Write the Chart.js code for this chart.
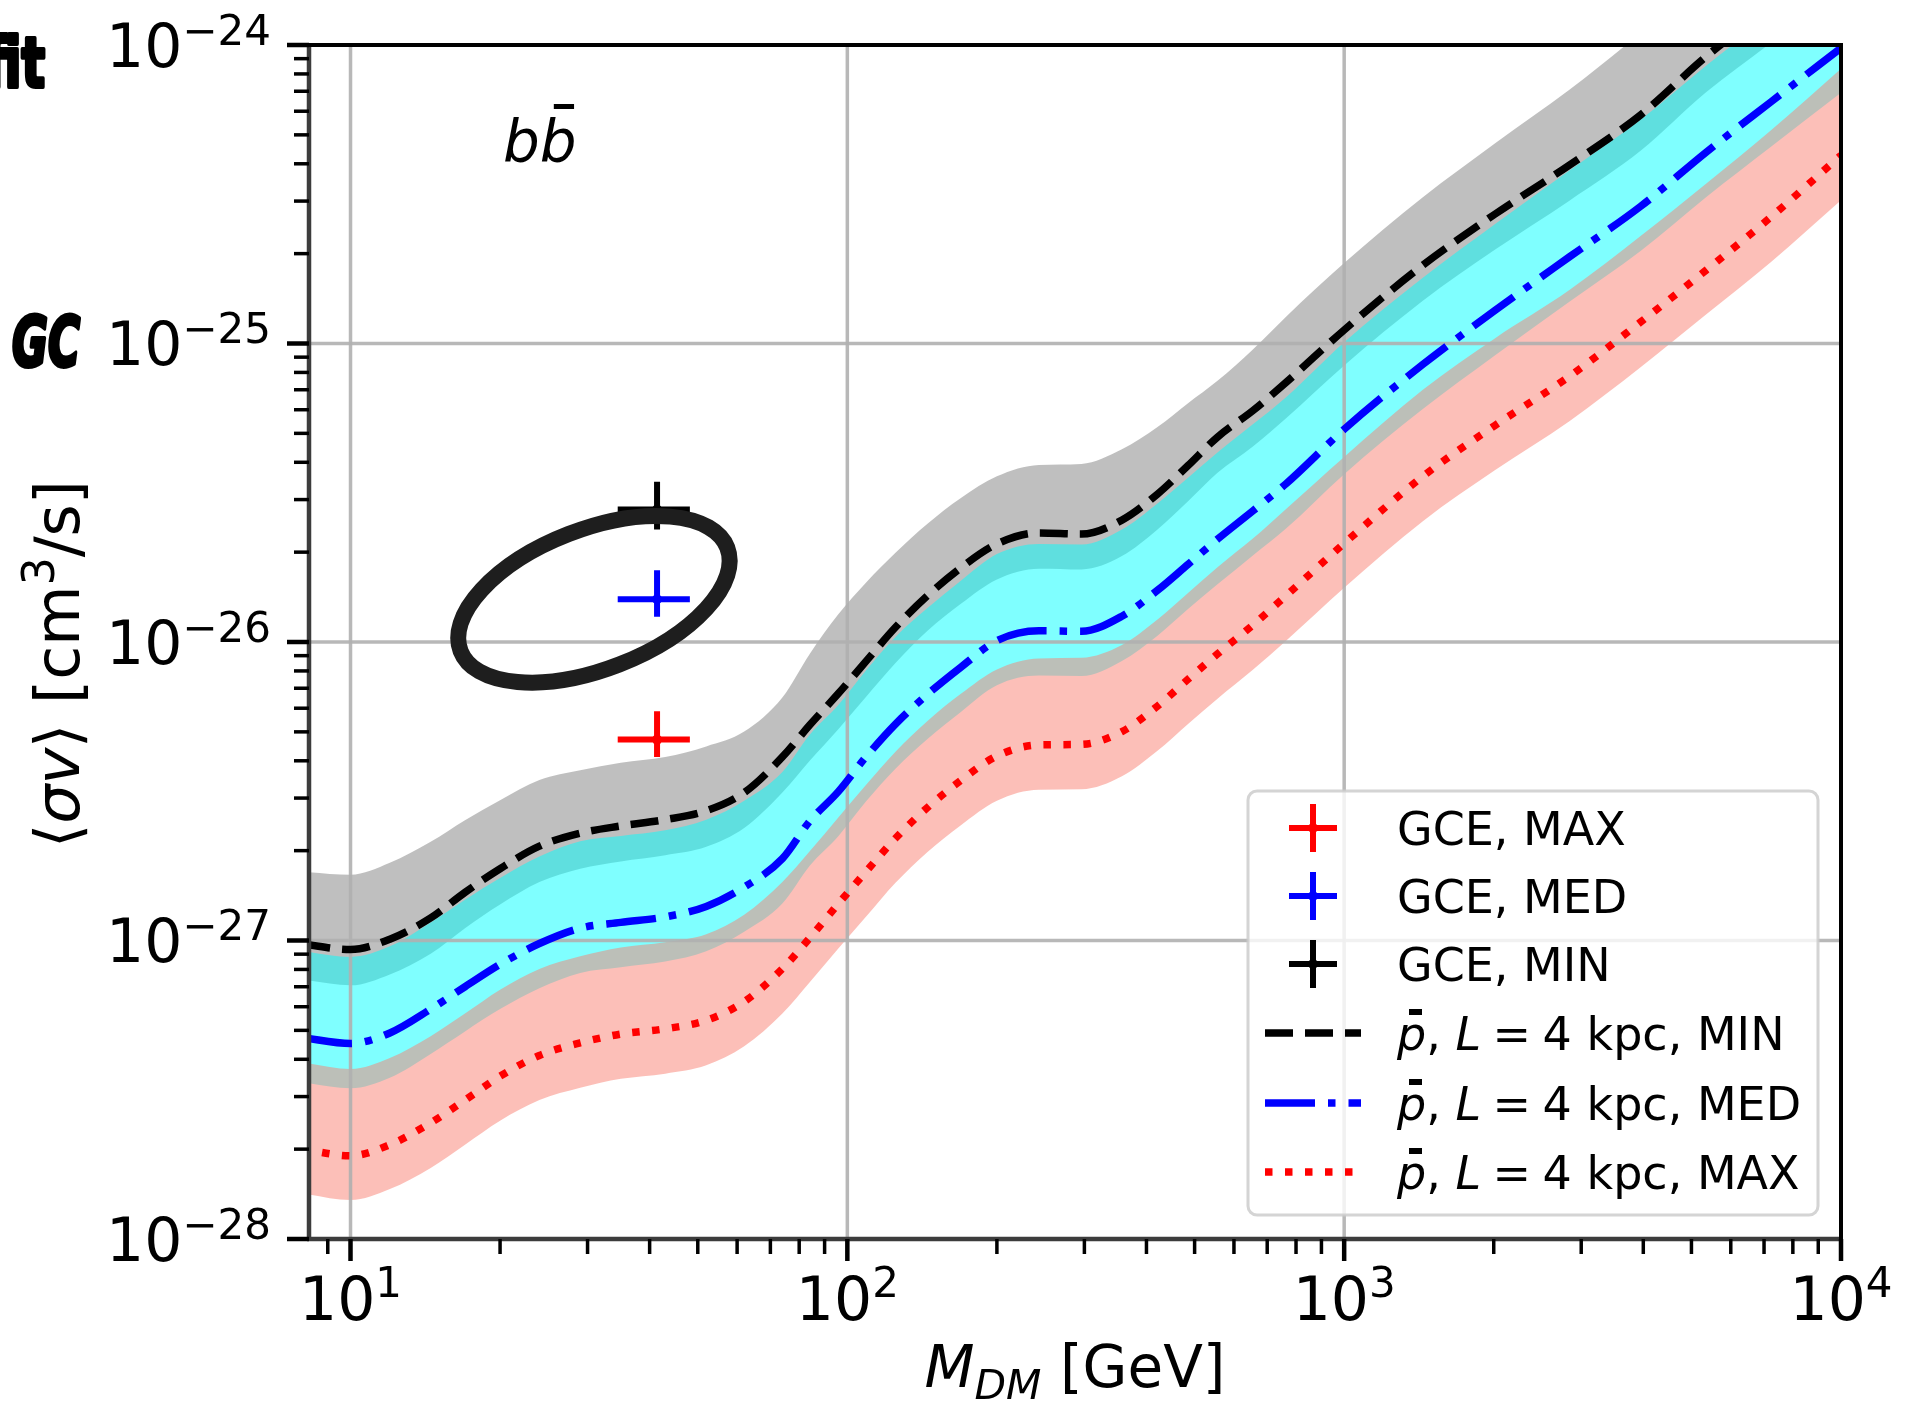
<!DOCTYPE html>
<html>
<head>
<meta charset="utf-8">
<script src="https://cdn.jsdelivr.net/npm/chart.js@4.4.1/dist/chart.umd.min.js"></script>
<style>
  html, body { margin: 0; padding: 0; background: #fff; }
  #wrap { width: 1921px; height: 1406px; }
</style>
</head>
<body>
<div id="wrap"><canvas id="myChart" width="1921" height="1406"></canvas></div>
<script>
// dark matter mass grid [GeV]
const massGeV = [8, 10, 12, 14.5, 17, 20, 24, 29, 35, 43, 52, 62, 74, 84, 96, 109, 125, 145, 169, 200,
  243, 296, 357, 421, 485, 556, 655, 764, 1000, 1440, 2010, 2840, 3950, 5350, 7240, 10000];

// pbar limits, L = 4 kpc (cm^3/s)
const sigmaMin = [9.73e-28, 9.33e-28, 1.01e-27, 1.19e-27, 1.45e-27, 1.74e-27, 2.07e-27, 2.29e-27, 2.42e-27, 2.54e-27,
  2.72e-27, 3.13e-27, 4.12e-27, 5.27e-27, 6.73e-27, 8.61e-27, 1.12e-26, 1.43e-26, 1.77e-26, 2.13e-26,
  2.32e-26, 2.30e-26, 2.56e-26, 3.13e-26, 3.90e-26, 4.86e-26, 5.96e-26, 7.41e-26, 1.11e-25, 1.83e-25,
  2.71e-25, 3.96e-25, 5.83e-25, 9.14e-25, 1.35e-24, 2.04e-24];
const sigmaMed = [4.73e-28, 4.52e-28, 4.90e-28, 5.89e-28, 7.00e-28, 8.32e-28, 9.77e-28, 1.10e-27, 1.15e-27, 1.20e-27,
  1.30e-27, 1.51e-27, 1.88e-27, 2.51e-27, 3.16e-27, 4.12e-27, 5.31e-27, 6.68e-27, 8.22e-27, 1.01e-26,
  1.09e-26, 1.086e-26, 1.22e-26, 1.49e-26, 1.82e-26, 2.21e-26, 2.75e-26, 3.39e-26, 5.16e-26, 8.51e-26,
  1.29e-25, 1.95e-25, 2.88e-25, 4.37e-25, 6.46e-25, 9.77e-25];
const sigmaMax = [2.00e-28, 1.90e-28, 2.07e-28, 2.45e-28, 2.92e-28, 3.51e-28, 4.12e-28, 4.54e-28, 4.86e-28, 5.06e-28,
  5.40e-28, 6.24e-28, 8.04e-28, 1.02e-27, 1.33e-27, 1.70e-27, 2.20e-27, 2.79e-27, 3.43e-27, 4.15e-27,
  4.52e-27, 4.54e-27, 5.01e-27, 6.10e-27, 7.50e-27, 9.12e-27, 1.14e-26, 1.43e-26, 2.14e-26, 3.59e-26,
  5.31e-26, 7.76e-26, 1.18e-25, 1.76e-25, 2.66e-25, 4.27e-25];

// uncertainty bands
const bandMinHigh = [1.70e-27, 1.66e-27, 1.82e-27, 2.14e-27, 2.53e-27, 2.95e-27, 3.45e-27, 3.72e-27, 3.94e-27, 4.12e-27,
  4.47e-27, 5.01e-27, 6.52e-27, 9.12e-27, 1.24e-26, 1.58e-26, 1.99e-26, 2.49e-26, 3.03e-26, 3.59e-26,
  3.92e-26, 3.95e-26, 4.42e-26, 5.25e-26, 6.31e-26, 7.50e-26, 9.55e-26, 1.23e-25, 1.86e-25, 3.09e-25,
  4.68e-25, 7.08e-25, 1.10e-24, 1.74e-24, 2.69e-24, 4.27e-24];
const bandMinLow = [7.39e-28, 7.08e-28, 7.70e-28, 9.03e-28, 1.10e-27, 1.32e-27, 1.57e-27, 1.74e-27, 1.84e-27, 1.93e-27,
  2.06e-27, 2.38e-27, 3.13e-27, 4.00e-27, 5.11e-27, 6.54e-27, 8.50e-27, 1.09e-26, 1.34e-26, 1.62e-26,
  1.76e-26, 1.75e-26, 1.94e-26, 2.38e-26, 2.96e-26, 3.69e-26, 4.52e-26, 5.62e-26, 8.44e-26, 1.39e-25,
  2.06e-25, 3.01e-25, 4.42e-25, 6.94e-25, 1.02e-24, 1.55e-24];
const bandMedHigh = [9.22e-28, 8.81e-28, 9.56e-28, 1.15e-27, 1.37e-27, 1.62e-27, 1.91e-27, 2.15e-27, 2.24e-27, 2.34e-27,
  2.54e-27, 2.94e-27, 3.67e-27, 4.89e-27, 6.16e-27, 8.03e-27, 1.04e-26, 1.30e-26, 1.60e-26, 1.97e-26,
  2.13e-26, 2.12e-26, 2.38e-26, 2.91e-26, 3.55e-26, 4.31e-26, 5.36e-26, 6.61e-26, 1.01e-25, 1.66e-25,
  2.51e-25, 3.80e-25, 5.62e-25, 8.52e-25, 1.26e-24, 1.91e-24];
const bandMedLow = [3.35e-28, 3.20e-28, 3.47e-28, 4.17e-28, 4.96e-28, 5.89e-28, 6.92e-28, 7.79e-28, 8.14e-28, 8.50e-28,
  9.20e-28, 1.07e-27, 1.33e-27, 1.78e-27, 2.24e-27, 2.92e-27, 3.76e-27, 4.73e-27, 5.82e-27, 7.16e-27,
  7.72e-27, 7.69e-27, 8.64e-27, 1.05e-26, 1.29e-26, 1.56e-26, 1.95e-26, 2.40e-26, 3.65e-26, 6.03e-26,
  9.12e-26, 1.38e-25, 2.04e-25, 3.09e-25, 4.57e-25, 6.92e-25];
const bandMaxHigh = [3.90e-28, 3.71e-28, 4.04e-28, 4.78e-28, 5.69e-28, 6.84e-28, 8.03e-28, 8.85e-28, 9.48e-28, 9.87e-28,
  1.05e-27, 1.22e-27, 1.57e-27, 1.99e-27, 2.59e-27, 3.32e-27, 4.29e-27, 5.44e-27, 6.69e-27, 8.09e-27,
  8.81e-27, 8.85e-27, 9.77e-27, 1.19e-26, 1.46e-26, 1.78e-26, 2.22e-26, 2.79e-26, 4.17e-26, 7.00e-26,
  1.04e-25, 1.51e-25, 2.29e-25, 3.43e-25, 5.19e-25, 8.33e-25];
const bandMaxLow = [1.42e-28, 1.35e-28, 1.47e-28, 1.73e-28, 2.07e-28, 2.49e-28, 2.92e-28, 3.21e-28, 3.44e-28, 3.58e-28,
  3.82e-28, 4.42e-28, 5.69e-28, 7.24e-28, 9.42e-28, 1.20e-27, 1.56e-27, 1.98e-27, 2.43e-27, 2.94e-27,
  3.20e-27, 3.21e-27, 3.55e-27, 4.32e-27, 5.31e-27, 6.46e-27, 8.07e-27, 1.01e-26, 1.52e-26, 2.54e-26,
  3.76e-26, 5.49e-26, 8.32e-26, 1.25e-25, 1.88e-25, 3.02e-25];

// galactic center excess fits
const gceLabels = ['GCE, MAX', 'GCE, MED', 'GCE, MIN'];
const gceColors = ['#ff0000', '#0000ff', '#000000'];
const gceMass = 41.4, gceMassLow = 34.5, gceMassHigh = 48.2;
const gceSigma = [4.71e-27, 1.39e-26, 2.78e-26];
const gceSigmaLow = [4.12e-27, 1.215e-26, 2.38e-26];
const gceSigmaHigh = [5.86e-27, 1.74e-26, 3.44e-26];

const lineLabels = ['MIN', 'MED', 'MAX'];

// axes
const xRange = [8.25, 10000];
const yRange = [1e-28, 1e-24];
const xTickExps = [1, 2, 3, 4];
const yTickExps = [-28, -27, -26, -25, -24];

// hand drawn mark around the MED point
const ringCenter = { x: 30.9, y: 1.39e-26 };

const FONT = '"DejaVu Sans", sans-serif';
const dashes = { MIN: [28, 12], MED: [50, 13, 7.5, 13], MAX: [7.5, 12.5] };
const lineColors = { MIN: '#000000', MED: '#0000ff', MAX: '#ff0000' };

const pts = ys => massGeV.map((m, i) => ({ x: m, y: ys[i] }));

function minorTicks(lo, hi) {
  const out = [];
  for (let e = Math.floor(Math.log10(lo)); e <= Math.ceil(Math.log10(hi)); e++) {
    for (let k = 2; k <= 9; k++) {
      const v = k * Math.pow(10, e);
      if (v >= lo && v <= hi) out.push(v);
    }
  }
  return out;
}

function drawRuns(ctx, runs, x, y, align) {
  let total = 0;
  runs.forEach(r => { ctx.font = r.font; r.w = ctx.measureText(r.text).width; total += r.w; });
  let cx = align === 'right' ? x - total : align === 'center' ? x - total / 2 : x;
  runs.forEach(r => {
    ctx.font = r.font;
    r.x = cx;
    ctx.fillText(r.text, cx, y + (r.dy || 0));
    cx += r.w;
  });
  return runs;
}

function seg(ctx, x1, y1, x2, y2) {
  ctx.beginPath(); ctx.moveTo(x1, y1); ctx.lineTo(x2, y2); ctx.stroke();
}

function sideNote(ctx, text, xRight, baseline, width, italic) {
  ctx.save();
  ctx.font = (italic ? 'italic ' : '') + 'bold 70px "Liberation Sans Narrow", "DejaVu Sans Condensed", sans-serif';
  const w = ctx.measureText(text).width;
  ctx.translate(xRight, baseline);
  ctx.scale(width / w, 1);
  ctx.textAlign = 'right';
  ctx.lineWidth = 4;
  ctx.lineJoin = 'round';
  ctx.strokeStyle = '#000';
  ctx.fillStyle = '#000';
  ctx.fillText(text, 0, 0);
  ctx.strokeText(text, 0, 0);
  ctx.restore();
}

const decor = {
  id: 'decor',
  beforeDatasetsDraw(chart) {
    // grid on top of the bands, under the lines
    const { ctx, chartArea: a, scales: { x, y } } = chart;
    ctx.save();
    ctx.strokeStyle = 'rgba(176,176,176,0.9)';
    ctx.lineWidth = 3.5;
    xTickExps.forEach(e => { const px = x.getPixelForValue(Math.pow(10, e)); seg(ctx, px, a.top, px, a.bottom); });
    yTickExps.forEach(e => { const py = y.getPixelForValue(Math.pow(10, e)); seg(ctx, a.left, py, a.right, py); });
    ctx.restore();
  },
  afterDatasetsDraw(chart) {
    const { ctx, scales: { x, y } } = chart;
    ctx.save();
    // ring
    ctx.beginPath();
    ctx.ellipse(x.getPixelForValue(ringCenter.x), y.getPixelForValue(ringCenter.y), 143, 70, -21.2 * Math.PI / 180, 0, 2 * Math.PI);
    ctx.lineWidth = 16;
    ctx.strokeStyle = '#1e1e1e';
    ctx.stroke();
    // channel label
    ctx.fillStyle = '#000';
    ctx.font = 'italic 58px ' + FONT;
    const wb = ctx.measureText('b').width;
    ctx.fillText('bb', 503, 162);
    ctx.fillRect(503 + wb + 0.38 * wb, 104, 0.55 * wb, 5);
    ctx.restore();
  },
  afterDraw(chart) {
    const { ctx, chartArea: a, scales: { x, y } } = chart;
    ctx.save();
    ctx.lineCap = 'butt';
    // spines
    ctx.lineWidth = 4.5;
    ctx.strokeStyle = '#3c3c3c';
    seg(ctx, a.left, a.top - 2, a.left, a.bottom + 2);
    seg(ctx, a.left - 2, a.bottom, a.right + 2, a.bottom);
    ctx.strokeStyle = '#000';
    ctx.lineWidth = 4;
    seg(ctx, a.left - 2, a.top, a.right + 2, a.top);
    seg(ctx, a.right, a.top - 2, a.right, a.bottom + 2);

    // ticks
    ctx.strokeStyle = '#000';
    ctx.lineWidth = 3.5;
    minorTicks(xRange[0], xRange[1]).forEach(v => { const px = x.getPixelForValue(v); seg(ctx, px, a.bottom, px, a.bottom + 15); });
    minorTicks(yRange[0], yRange[1]).forEach(v => { const py = y.getPixelForValue(v); seg(ctx, a.left, py, a.left - 15, py); });
    ctx.lineWidth = 4.5;
    xTickExps.forEach(e => { const px = x.getPixelForValue(Math.pow(10, e)); seg(ctx, px, a.bottom, px, a.bottom + 22); });
    yTickExps.forEach(e => { const py = y.getPixelForValue(Math.pow(10, e)); seg(ctx, a.left, py, a.left - 22, py); });

    // tick labels
    ctx.fillStyle = '#000';
    ctx.textAlign = 'left';
    ctx.textBaseline = 'alphabetic';
    const big = '60px ' + FONT, sup = '42px ' + FONT;
    xTickExps.forEach(e => {
      const px = x.getPixelForValue(Math.pow(10, e));
      drawRuns(ctx, [{ text: '10', font: big }, { text: String(e), font: sup, dy: -23 }], px, 1320, 'center');
    });
    yTickExps.forEach(e => {
      const py = y.getPixelForValue(Math.pow(10, e));
      drawRuns(ctx, [{ text: '10', font: big }, { text: '\u2212' + Math.abs(e), font: sup, dy: -22 }], 271, py + 21.5, 'right');
    });

    // axis titles
    const t = '58px ' + FONT, ti = 'italic 58px ' + FONT, ts = 'italic 41px ' + FONT;
    drawRuns(ctx, [{ text: 'M', font: ti }, { text: 'DM', font: ts, dy: 12 }, { text: ' [GeV]', font: t }], 1075, 1387, 'center');
    const yt = '62px ' + FONT, yti = 'italic 62px ' + FONT;
    ctx.save();
    ctx.translate(79, 664);
    ctx.rotate(-Math.PI / 2);
    drawRuns(ctx, [
      { text: '\u27e8', font: yt }, { text: '\u03c3', font: yti }, { text: 'v', font: yti }, { text: '\u27e9', font: yt },
      { text: ' [cm', font: yt }, { text: '3', font: '44px ' + FONT, dy: -25 }, { text: '/s]', font: yt }
    ], 0, 0, 'center');
    ctx.restore();

    // legend
    const L = { left: 1248, top: 791, right: 1818, bottom: 1215 };
    ctx.beginPath();
    ctx.roundRect(L.left, L.top, L.right - L.left, L.bottom - L.top, 9);
    ctx.fillStyle = 'rgba(255,255,255,0.8)';
    ctx.fill();
    ctx.lineWidth = 3;
    ctx.strokeStyle = 'rgba(204,204,204,0.85)';
    ctx.stroke();
    const rows = [828, 896, 964, 1033, 1103, 1172];
    const txtX = 1397, lf = '46px ' + FONT, lfi = 'italic 46px ' + FONT;
    gceLabels.forEach((lab, i) => {
      const cy = rows[i];
      ctx.strokeStyle = gceColors[i];
      ctx.lineWidth = 6;
      seg(ctx, 1289, cy, 1337, cy);
      seg(ctx, 1313, cy - 24, 1313, cy + 24);
      ctx.fillStyle = gceColors[i];
      ctx.beginPath(); ctx.arc(1313, cy, 5, 0, 2 * Math.PI); ctx.fill();
      ctx.fillStyle = '#000';
      ctx.font = lf;
      ctx.fillText(lab, txtX, cy + 17);
    });
    lineLabels.forEach((lab, i) => {
      const cy = rows[3 + i];
      ctx.save();
      ctx.strokeStyle = lineColors[lab];
      ctx.lineWidth = 7.5;
      ctx.setLineDash(dashes[lab]);
      seg(ctx, 1265, cy, 1361, cy);
      ctx.restore();
      ctx.fillStyle = '#000';
      const runs = drawRuns(ctx, [
        { text: 'p', font: lfi }, { text: ', ', font: lf }, { text: 'L', font: lfi },
        { text: '\u2005=\u2005', font: lf }, { text: '4 kpc, ' + lab, font: lf }
      ], txtX, cy + 17, 'left');
      ctx.fillRect(runs[0].x + 12, cy + 17 - 41, 13, 6);
    });

    // notes cut off on the left
    sideNote(ctx, 'fit', 45, 87, 60, false);
    sideNote(ctx, 'GC', 80, 366, 68, true);
    ctx.restore();
  }
};

const edge = { type: 'line', pointRadius: 0, borderWidth: 0, borderColor: 'rgba(0,0,0,0)', cubicInterpolationMode: 'monotone' };
const datasets = [
  { ...edge, data: pts(bandMinLow), order: 60, fill: false },
  { ...edge, data: pts(bandMinHigh), order: 60, fill: '-1', backgroundColor: 'rgba(128,128,128,0.5)' },
  { ...edge, data: pts(bandMedLow), order: 50, fill: false },
  { ...edge, data: pts(bandMedHigh), order: 50, fill: '-1', backgroundColor: 'rgba(0,255,255,0.5)' },
  { ...edge, data: pts(bandMaxLow), order: 40, fill: false },
  { ...edge, data: pts(bandMaxHigh), order: 40, fill: '-1', backgroundColor: 'rgba(250,128,114,0.5)' }
];
[sigmaMin, sigmaMed, sigmaMax].forEach((s, i) => {
  const lab = lineLabels[i];
  datasets.push({
    type: 'line', label: lab, data: pts(s), order: 10, fill: false, pointRadius: 0,
    borderColor: lineColors[lab], borderWidth: 7.5, borderDash: dashes[lab], borderCapStyle: 'butt',
    cubicInterpolationMode: 'monotone'
  });
});
gceLabels.forEach((lab, i) => {
  datasets.push({
    type: 'line', label: lab, order: 0, fill: false, pointRadius: 0, spanGaps: false,
    borderColor: gceColors[i], borderWidth: 6, borderCapStyle: 'butt',
    data: [
      { x: gceMassLow, y: gceSigma[i] }, { x: gceMassHigh, y: gceSigma[i] },
      { x: gceMass, y: null },
      { x: gceMass, y: gceSigmaHigh[i] }, { x: gceMass, y: gceSigmaLow[i] }
    ]
  });
});
datasets.push({
  type: 'line', label: 'GCE centres', order: 0, showLine: false,
  data: gceSigma.map(v => ({ x: gceMass, y: v })),
  pointRadius: 5, pointBorderWidth: 0, pointBackgroundColor: gceColors
});

new Chart(document.getElementById('myChart'), {
  type: 'line',
  data: { datasets },
  options: {
    responsive: false,
    animation: false,
    devicePixelRatio: 1,
    events: [],
    layout: { padding: { top: 45, right: 80, bottom: 0, left: 0 } },
    plugins: {
      legend: { display: false },
      tooltip: { enabled: false },
      filler: { drawTime: 'beforeDatasetsDraw' }
    },
    scales: {
      x: {
        type: 'logarithmic', min: xRange[0], max: xRange[1],
        ticks: { display: false }, grid: { display: false }, border: { display: false },
        afterFit: s => { s.height = 167; }
      },
      y: {
        type: 'logarithmic', min: yRange[0], max: yRange[1],
        ticks: { display: false }, grid: { display: false }, border: { display: false },
        afterFit: s => { s.width = 309; }
      }
    }
  },
  plugins: [decor]
});
</script>
</body>
</html>
